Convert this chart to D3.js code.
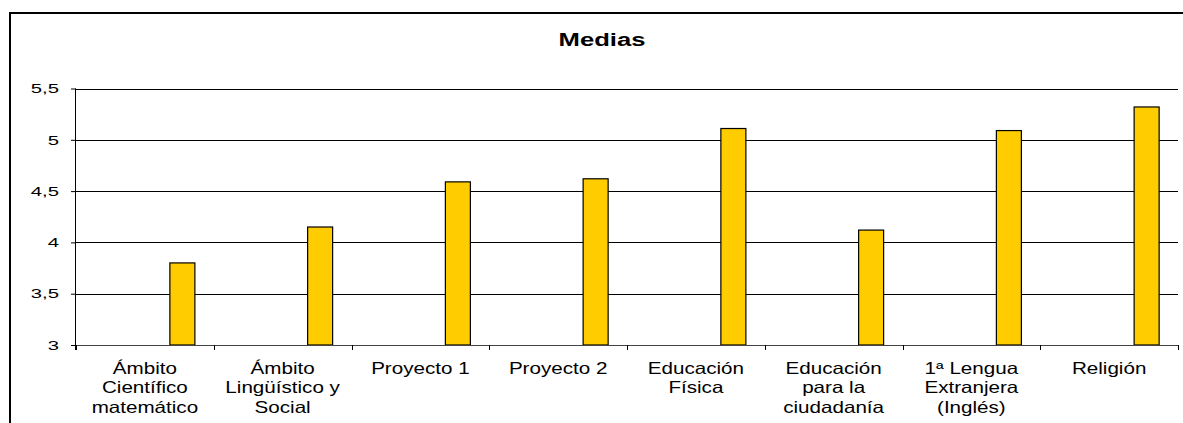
<!DOCTYPE html>
<html><head><meta charset="utf-8">
<script src="https://cdn.jsdelivr.net/npm/d3@7"></script>
<style>body{margin:0;background:#fff}svg{display:block}</style>
</head><body>
<script>
const categories = [
  ["Ámbito","Científico","matemático"],
  ["Ámbito","Lingüístico y","Social"],
  ["Proyecto 1"],
  ["Proyecto 2"],
  ["Educación","Física"],
  ["Educación","para la","ciudadanía"],
  ["1ª Lengua","Extranjera","(Inglés)"],
  ["Religión"]
];
const values = [3.80, 4.15, 4.59, 4.62, 5.11, 4.12, 5.09, 5.32];
const yTicks = [3, 3.5, 4, 4.5, 5, 5.5];
const yTickLabels = ["3","3,5","4","4,5","5","5,5"];
const title = "Medias";

const W = 1183, H = 423;
const m = {left: 76, right: 1178, top: 88.5, bottom: 345};
const svg = d3.select("body").append("svg").attr("width", W).attr("height", H);
const font = "Liberation Sans, Arial, sans-serif";

// outer border
svg.append("rect").attr("x", 10).attr("y", 13).attr("width", 1400).attr("height", 600)
  .attr("fill", "none").attr("stroke", "#000").attr("stroke-width", 2);

const idx = categories.map((d, i) => i);
const x = d3.scaleBand().domain(idx).range([m.left, m.right]).padding(0);
const y = d3.scaleLinear().domain([3, 5.5]).range([m.bottom, m.top]);

// gridlines
svg.append("g").selectAll("line").data(yTicks.filter(t => t !== 3)).join("line")
  .attr("x1", m.left).attr("x2", m.right)
  .attr("y1", d => Math.round(y(d)) + 0.5).attr("y2", d => Math.round(y(d)) + 0.5)
  .attr("stroke", "#000").attr("stroke-width", 1);

// bars (4-slot cluster, value in last slot)
const bw = x.bandwidth();
const barW = bw * 0.1815;
svg.append("g").selectAll("rect").data(values).join("rect")
  .attr("x", (d, i) => x(i) + bw / 2 + barW)
  .attr("y", d => y(d))
  .attr("width", barW)
  .attr("height", d => y(3) - y(d))
  .attr("fill", "#FFCC00").attr("stroke", "#000").attr("stroke-width", 1.2);

// y axis
const yAxis = d3.axisLeft(y).tickValues(yTicks).tickSize(5).tickFormat("");
const gy = svg.append("g").attr("transform", `translate(${m.left},0)`).call(yAxis);
gy.select(".domain").attr("stroke", "#000").attr("d", `M-0.5,${m.top}V${m.bottom + 5}`);
gy.selectAll(".tick line").attr("stroke", "#000");
svg.append("g").selectAll("text").data(yTicks).join("text")
  .attr("transform", d => `translate(59,${y(d) + 4.7}) scale(1.5,1)`)
  .attr("text-anchor", "end").attr("font-family", font).attr("font-size", 13.5)
  .attr("fill", "#000").text((d, i) => yTickLabels[i]);

// x axis
svg.append("line").attr("x1", m.left).attr("x2", m.right)
  .attr("y1", m.bottom + 0.5).attr("y2", m.bottom + 0.5).attr("stroke", "#444");
const bounds = idx.map(i => x(i)).concat([m.right]);
svg.append("g").selectAll("line").data(bounds).join("line")
  .attr("x1", d => Math.round(d) + 0.5).attr("x2", d => Math.round(d) + 0.5)
  .attr("y1", m.bottom).attr("y2", m.bottom + 5).attr("stroke", "#000");

const lab = svg.append("g").selectAll("g").data(categories).join("g")
  .attr("transform", (d, i) => `translate(${x(i) + bw / 2},0)`);
lab.selectAll("text").data(d => d).join("text")
  .attr("transform", (d, j) => `translate(0,${373.5 + j * 19.5}) scale(1.25,1)`)
  .attr("text-anchor", "middle").attr("font-family", font).attr("font-size", 16.5)
  .attr("fill", "#000").text(d => d);

// title
svg.append("text").attr("transform", "translate(602,46) scale(1.35,1)")
  .attr("text-anchor", "middle").attr("font-family", font).attr("font-size", 19)
  .attr("font-weight", "bold").attr("fill", "#000").text(title);
</script>
</body></html>
